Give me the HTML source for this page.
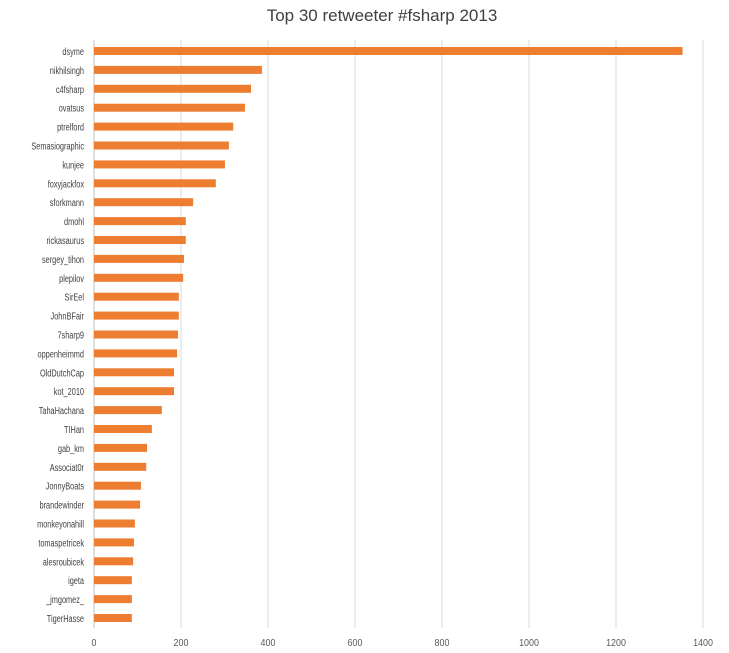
<!DOCTYPE html>
<html><head><meta charset="utf-8"><style>
body{margin:0;background:#fff;}
svg{display:block;font-family:"Liberation Sans",sans-serif;}
</style></head><body>
<svg width="729" height="653" viewBox="0 0 729 653">
<rect width="729" height="653" fill="#fff"/>
<text x="382" y="21" font-size="17" fill="#404040" text-anchor="middle">Top 30 retweeter #fsharp 2013</text>
</svg>
<script>
(function(){
var names=["dsyme","nikhilsingh","c4fsharp","ovatsus","ptrelford","Semasiographic","kunjee","foxyjackfox","sforkmann","dmohl","rickasaurus","sergey_tihon","plepilov","SirEel","JohnBFair","7sharp9","oppenheimmd","OldDutchCap","kot_2010","TahaHachana","TIHan","gab_km","Associat0r","JonnyBoats","brandewinder","monkeyonahill","tomaspetricek","alesroubicek","igeta","_jmgomez_","TigerHasse"];
var vals=[1353,386,361,347,320,310,301,280,228,211,211,207,205,195,195,193,191,184,184,156,133,122,120,108,106,94,92,90,87,87,87];
var ns="http://www.w3.org/2000/svg",svg=document.querySelector("svg");
function el(t,a,txt){var e=document.createElementNS(ns,t);for(var k in a)e.setAttribute(k,a[k]);if(txt!=null)e.textContent=txt;svg.appendChild(e);return e;}
var x0=94,sc=0.435;
for(var v=0;v<=1400;v+=200){var x=x0+v*sc;
 if(v>0)el("line",{x1:x,x2:x,y1:40,y2:628,stroke:"#d9d9d9","stroke-width":1});
 el("text",{x:0,y:0,transform:"translate("+x+",646) scale(0.85,1)","font-size":10.5,fill:"#595959","text-anchor":"middle"},v);}
el("line",{x1:x0,x2:x0,y1:40,y2:628,stroke:"#bfbfbf","stroke-width":1});
var n=names.length,y0=51,step=(618-51)/(n-1);
for(var i=0;i<n;i++){var y=y0+i*step;
 el("rect",{x:x0,y:y-4,width:vals[i]*sc,height:8,fill:"#ed7d31"});
 el("text",{x:0,y:0,transform:"translate(84,"+(y+4)+") scale(0.7,1)","font-size":10.5,fill:"#404040","text-anchor":"end"},names[i]);}
})();
</script>
</body></html>
